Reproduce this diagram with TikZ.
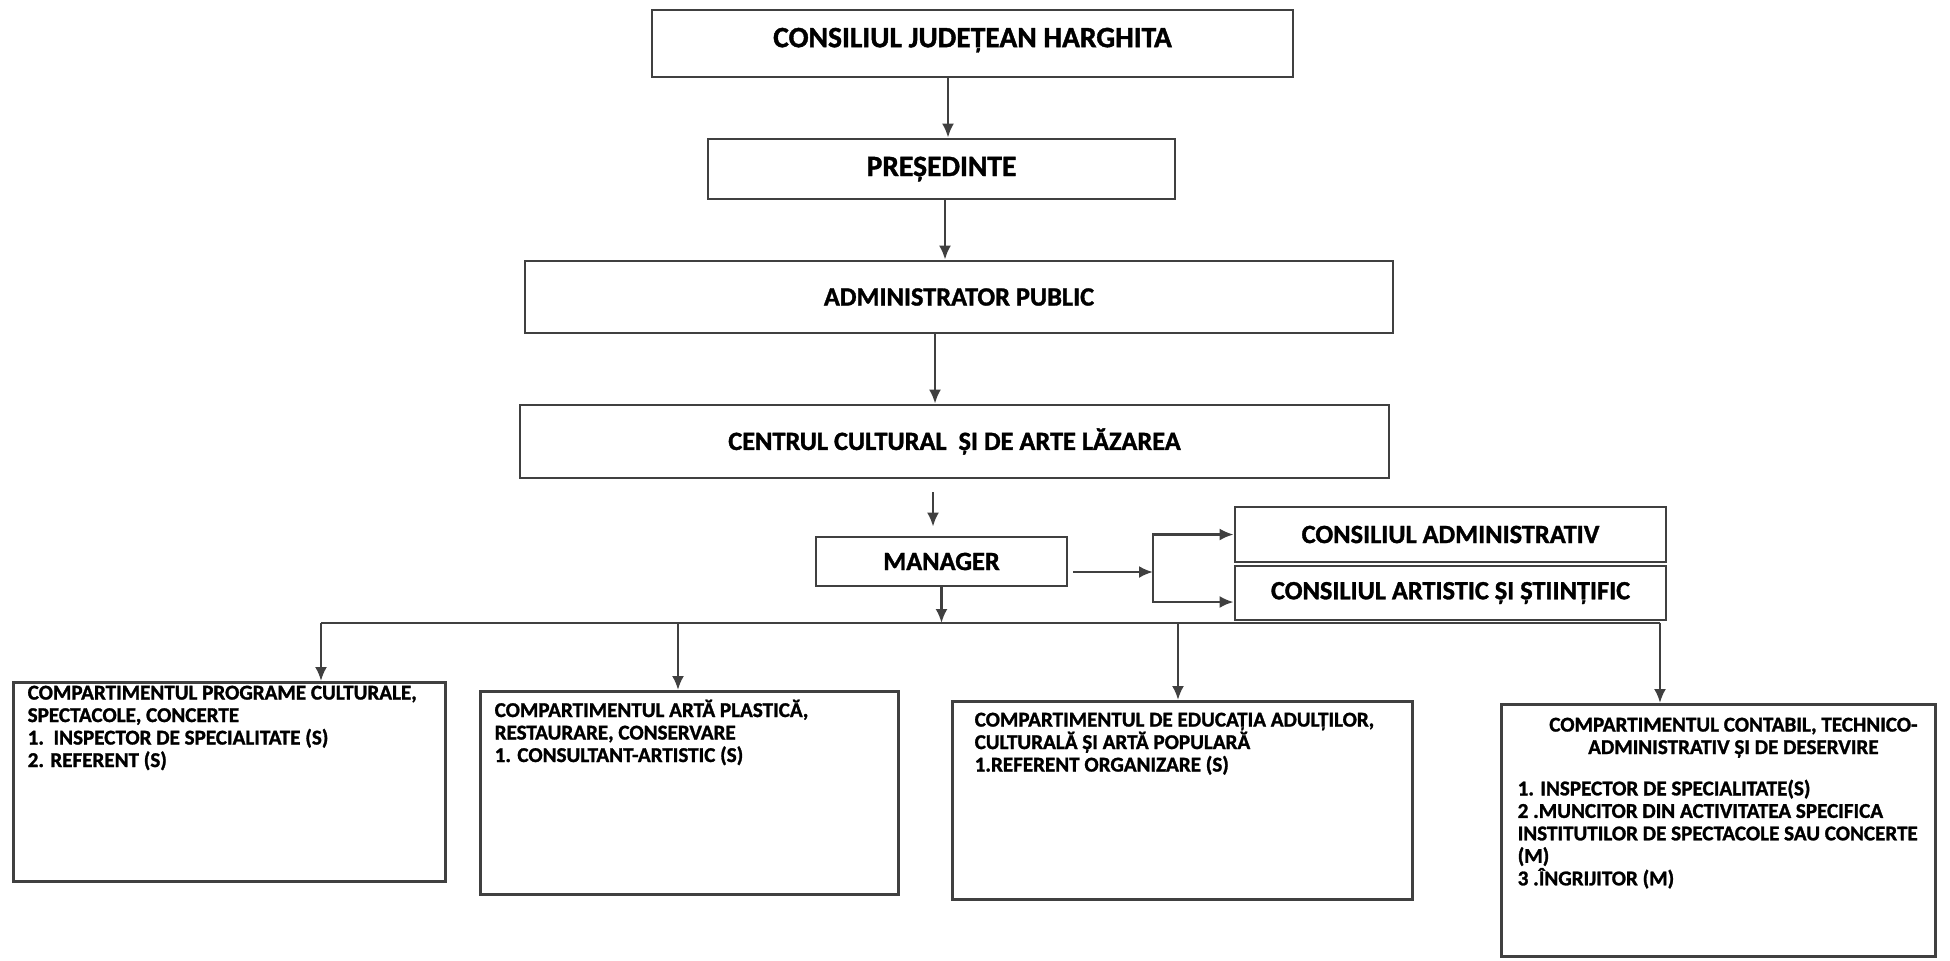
\documentclass[tikz,border=0pt]{standalone}
\usepackage{fontspec}
\setmainfont{Carlito}[BoldFeatures={FakeBold=1.3}]
\usetikzlibrary{arrows.meta}

\begin{document}
\begin{tikzpicture}[
    box/.style={draw=black!75, line width=0.8pt, inner sep=0, fill=white},
    deptext/.style={inner sep=0, anchor=north west, align=left, font=\deptfontsize},
    conn/.style={draw=black!75, line width=0.7pt},
    arr/.style={conn, -{Latex[length=1.4mm,width=1.2mm]}}
]
    \providecommand{\topfontsize}{\fontsize{8.4pt}{10pt}\bfseries\selectfont}
    \providecommand{\headfontsize}{\fontsize{7.5pt}{9pt}\bfseries\selectfont}
    \providecommand{\deptfontsize}{\fontsize{6pt}{6.4pt}\bfseries\selectfont}
    \useasboundingbox (0,0) rectangle (19.5,-9.6);

    % chain of command
    \node[box, minimum width=6.41cm, minimum height=0.67cm, font=\topfontsize, text depth=0.12cm] (cjh) at (9.725,-0.435) {CONSILIUL JUDEȚEAN HARGHITA};
    \node[box, minimum width=4.67cm, minimum height=0.60cm, font=\topfontsize] (pres) at (9.415,-1.69) {PREȘEDINTE};
    \node[box, minimum width=8.68cm, minimum height=0.72cm, font=\headfontsize] (admin) at (9.59,-2.97) {ADMINISTRATOR PUBLIC};
    \node[box, minimum width=8.69cm, minimum height=0.73cm, font=\headfontsize] (centru) at (9.545,-4.415) {CENTRUL CULTURAL \ ȘI DE ARTE LĂZAREA};
    \node[box, minimum width=2.51cm, minimum height=0.49cm, font=\headfontsize] (manager) at (9.415,-5.615) {MANAGER};

    \coordinate (s1) at (9.48,0);
    \coordinate (s2) at (9.45,0);
    \coordinate (s3) at (9.35,0);
    \coordinate (s4) at (9.33,0);
    \draw[arr] (cjh.south -| s1) -- (pres.north -| s1);
    \draw[arr] (pres.south -| s2) -- (admin.north -| s2);
    \draw[arr] (admin.south -| s3) -- (centru.north -| s3);
    \draw[arr, shorten <=0.13cm, shorten >=0.09cm] (centru.south -| s4) -- (manager.north -| s4);

    % councils
    \node[box, minimum width=4.31cm, minimum height=0.55cm, font=\headfontsize] (cadm) at (14.505,-5.345) {CONSILIUL ADMINISTRATIV};
    \node[box, minimum width=4.31cm, minimum height=0.54cm, font=\headfontsize] (cart) at (14.505,-5.93) {CONSILIUL ARTISTIC ȘI ȘTIINȚIFIC};
    \coordinate (brk) at (11.53,-5.72);
    \draw[arr, shorten <=0.05cm] (manager.east |- brk) -- (brk);
    \draw[arr] (brk) |- (cadm.west);
    \draw[arr] (brk) |- ([yshift=-0.09cm]cart.west);

    % compartments
    \node[box, anchor=north west, minimum width=4.32cm, minimum height=1.99cm] (d1) at (0.12,-6.81) {};
    \node[box, anchor=north west, minimum width=4.18cm, minimum height=2.03cm] (d2) at (4.79,-6.90) {};
    \node[box, anchor=north west, minimum width=4.60cm, minimum height=1.98cm] (d3) at (9.51,-7.00) {};
    \node[box, anchor=north west, minimum width=4.34cm, minimum height=2.52cm] (d4) at (15.00,-7.03) {};

    \node[deptext] (d1t) at ([xshift=0.15cm,yshift=-0.04cm]d1.north west)
    {COMPARTIMENTUL PROGRAME CULTURALE,\\SPECTACOLE, CONCERTE\\1.\ \ INSPECTOR DE SPECIALITATE (S)\\2. REFERENT (S)};
    \node[deptext] (d2t) at ([xshift=0.15cm,yshift=-0.09cm]d2.north west)
    {COMPARTIMENTUL ARTĂ PLASTICĂ,\\RESTAURARE, CONSERVARE\\1. CONSULTANT-ARTISTIC (S)};
    \node[deptext] (d3t) at ([xshift=0.23cm,yshift=-0.12cm]d3.north west)
    {COMPARTIMENTUL DE EDUCAȚIA ADULȚILOR,\\CULTURALĂ ȘI ARTĂ POPULARĂ\\1.REFERENT ORGANIZARE (S)};
    \node[deptext, anchor=north, align=center] (d4t) at ([xshift=0.15cm,yshift=-0.14cm]d4.north)
    {COMPARTIMENTUL CONTABIL, TECHNICO-\\ADMINISTRATIV ȘI DE DESERVIRE};
    \node[deptext] (d4i) at ([xshift=0.17cm,yshift=-0.76cm]d4.north west)
    {1. INSPECTOR DE SPECIALITATE(S)\\2 .MUNCITOR DIN ACTIVITATEA SPECIFICA\\INSTITUTILOR DE SPECTACOLE SAU CONCERTE\\(M)\\3 .ÎNGRIJITOR (M)};

    % distribution line
    \coordinate (b1) at (3.21,-6.23);
    \coordinate (b2) at (6.78,-6.23);
    \coordinate (b3) at (11.78,-6.23);
    \coordinate (b4) at (16.60,-6.23);
    \draw[conn] (b1) -- (b4);
    \draw[arr] (manager) -- (manager |- b1);
    \foreach \i in {1,...,4}
        \draw[arr] (b\i) -- (b\i |- d\i.north);
\end{tikzpicture}
\end{document}
